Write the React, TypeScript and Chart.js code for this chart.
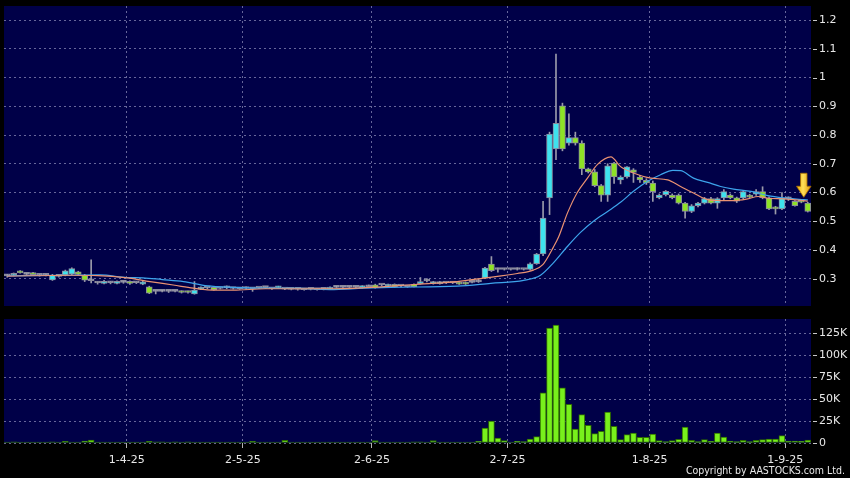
import React, { useEffect, useRef } from "react";
import { Chart, registerables } from "chart.js";

Chart.register(...registerables);

// ---------------- data ----------------
const opens = [
  0.310, 0.312, 0.327, 0.315, 0.320, 0.312, 0.312, 0.296, 0.308, 0.313,
  0.316, 0.324, 0.312, 0.293, 0.285, 0.284, 0.286, 0.284, 0.287, 0.289,
  0.286, 0.281, 0.272, 0.256, 0.256, 0.256, 0.256, 0.256, 0.256, 0.247,
  0.264, 0.268, 0.270, 0.266, 0.268, 0.266, 0.265, 0.266, 0.265, 0.267,
  0.269, 0.265, 0.268, 0.264, 0.263, 0.263, 0.262, 0.263, 0.262, 0.263,
  0.264, 0.270, 0.270, 0.270, 0.270, 0.269, 0.272, 0.279, 0.278, 0.274,
  0.280, 0.274, 0.272, 0.280, 0.283, 0.292, 0.283, 0.283, 0.285, 0.285,
  0.287, 0.287, 0.287, 0.289, 0.302, 0.351, 0.332, 0.332, 0.332, 0.332,
  0.332, 0.332, 0.352, 0.386, 0.581, 0.752, 0.902, 0.772, 0.791, 0.772,
  0.682, 0.672, 0.624, 0.591, 0.702, 0.644, 0.654, 0.679, 0.654, 0.642,
  0.633, 0.582, 0.592, 0.591, 0.591, 0.563, 0.534, 0.554, 0.563, 0.579,
  0.563, 0.581, 0.591, 0.581, 0.581, 0.591, 0.594, 0.603, 0.581, 0.550,
  0.543, 0.578, 0.569, 0.572, 0.563,
];
const highs = [
  0.315, 0.320, 0.328, 0.318, 0.322, 0.316, 0.315, 0.315, 0.312, 0.330,
  0.338, 0.326, 0.315, 0.366, 0.289, 0.294, 0.290, 0.293, 0.290, 0.293,
  0.289, 0.291, 0.274, 0.258, 0.260, 0.258, 0.258, 0.258, 0.257, 0.290,
  0.272, 0.270, 0.272, 0.268, 0.275, 0.268, 0.267, 0.272, 0.267, 0.269,
  0.271, 0.267, 0.274, 0.266, 0.265, 0.266, 0.264, 0.265, 0.266, 0.265,
  0.272, 0.276, 0.272, 0.272, 0.272, 0.276, 0.278, 0.281, 0.280, 0.281,
  0.282, 0.276, 0.275, 0.282, 0.304, 0.300, 0.291, 0.291, 0.288, 0.287,
  0.289, 0.289, 0.289, 0.300, 0.340, 0.377, 0.337, 0.335, 0.334, 0.338,
  0.334, 0.355, 0.388, 0.569, 0.810, 1.082, 0.911, 0.874, 0.810, 0.780,
  0.685, 0.680, 0.628, 0.700, 0.705, 0.658, 0.690, 0.683, 0.660, 0.648,
  0.640, 0.595, 0.607, 0.595, 0.595, 0.566, 0.558, 0.566, 0.583, 0.583,
  0.582, 0.610, 0.595, 0.584, 0.606, 0.594, 0.610, 0.620, 0.585, 0.552,
  0.600, 0.585, 0.572, 0.574, 0.566,
];
const lows = [
  0.305, 0.310, 0.319, 0.312, 0.311, 0.309, 0.310, 0.294, 0.305, 0.310,
  0.314, 0.313, 0.290, 0.285, 0.281, 0.282, 0.282, 0.282, 0.284, 0.280,
  0.283, 0.279, 0.248, 0.247, 0.254, 0.252, 0.254, 0.250, 0.250, 0.246,
  0.262, 0.265, 0.260, 0.264, 0.265, 0.264, 0.263, 0.264, 0.256, 0.265,
  0.266, 0.263, 0.266, 0.262, 0.261, 0.260, 0.260, 0.261, 0.260, 0.261,
  0.262, 0.268, 0.268, 0.268, 0.267, 0.267, 0.270, 0.267, 0.275, 0.273,
  0.270, 0.271, 0.270, 0.271, 0.281, 0.289, 0.281, 0.281, 0.283, 0.283,
  0.280, 0.280, 0.285, 0.287, 0.300, 0.325, 0.323, 0.330, 0.330, 0.330,
  0.330, 0.330, 0.350, 0.380, 0.523, 0.714, 0.745, 0.765, 0.765, 0.662,
  0.668, 0.620, 0.569, 0.569, 0.632, 0.630, 0.650, 0.635, 0.635, 0.628,
  0.569, 0.578, 0.588, 0.578, 0.560, 0.511, 0.530, 0.550, 0.560, 0.560,
  0.545, 0.575, 0.578, 0.565, 0.578, 0.582, 0.590, 0.578, 0.540, 0.525,
  0.540, 0.572, 0.552, 0.564, 0.532,
];
const closes = [
  0.310, 0.318, 0.320, 0.315, 0.314, 0.312, 0.312, 0.313, 0.308, 0.327,
  0.335, 0.315, 0.295, 0.293, 0.285, 0.291, 0.286, 0.291, 0.287, 0.284,
  0.286, 0.289, 0.250, 0.256, 0.256, 0.256, 0.256, 0.252, 0.252, 0.260,
  0.269, 0.268, 0.262, 0.266, 0.268, 0.266, 0.265, 0.266, 0.265, 0.267,
  0.269, 0.265, 0.273, 0.264, 0.263, 0.263, 0.262, 0.263, 0.262, 0.263,
  0.270, 0.270, 0.270, 0.270, 0.270, 0.274, 0.272, 0.269, 0.278, 0.279,
  0.272, 0.274, 0.272, 0.272, 0.290, 0.292, 0.289, 0.289, 0.285, 0.285,
  0.281, 0.281, 0.287, 0.289, 0.337, 0.328, 0.332, 0.332, 0.332, 0.332,
  0.332, 0.352, 0.386, 0.511, 0.803, 0.841, 0.752, 0.791, 0.772, 0.682,
  0.672, 0.624, 0.591, 0.693, 0.654, 0.654, 0.689, 0.670, 0.644, 0.633,
  0.603, 0.591, 0.604, 0.582, 0.563, 0.534, 0.554, 0.563, 0.579, 0.563,
  0.579, 0.603, 0.581, 0.570, 0.603, 0.584, 0.603, 0.582, 0.543, 0.543,
  0.581, 0.578, 0.554, 0.566, 0.534,
];
// volume in thousands of shares
const volumesK = [
  0.5, 1.2, 0.4, 0.3, 0.5, 0.3, 0.3, 1.2, 0.4, 1.8,
  0.6, 0.5, 2.3, 3.4, 1.0, 0.4, 0.3, 0.5, 0.3, 0.4,
  0.3, 0.5, 1.8, 1.2, 1.2, 0.6, 1.2, 0.6, 1.2, 1.0,
  0.6, 0.3, 0.5, 0.3, 0.4, 1.0, 0.3, 0.4, 1.8, 0.3,
  0.5, 0.3, 0.4, 3.0, 0.3, 1.0, 0.3, 0.3, 0.4, 0.3,
  0.5, 0.3, 0.4, 0.3, 0.3, 0.6, 0.3, 2.8, 1.0, 0.4,
  1.0, 0.3, 0.4, 1.2, 1.2, 0.5, 2.8, 0.5, 0.3, 0.4,
  0.6, 0.6, 0.4, 2.0, 17.0, 25.0, 5.7, 2.7, 0.8, 1.9,
  1.5, 4.5, 7.2, 57.0, 130.7, 134.0, 62.8, 43.9, 15.9, 32.2,
  20.0, 10.6, 13.3, 35.2, 18.9, 3.8, 9.5, 11.4, 6.4, 6.4,
  10.2, 2.7, 1.5, 2.7, 4.2, 18.2, 3.0, 1.5, 3.8, 2.0,
  11.4, 6.8, 2.3, 1.5, 3.0, 1.5, 3.0, 3.8, 4.5, 4.5,
  8.3, 2.3, 2.3, 2.0, 3.4,
];
// short moving average (orange), read at points along the line
const maFastX = [0, 10, 14, 18.6, 22.1, 25.7, 28.8, 31, 35, 40, 45, 50, 55, 59.4, 64.5, 69.7, 73.8, 79, 81.5, 83, 84.6, 85.4, 86.8, 88.3, 89.9, 91.4, 93.5, 95, 97, 99.7, 102.3, 104.3, 106.3, 108.5, 110.5, 112.5, 114.7, 116.3, 117.8, 120.3, 122.9, 124];
const maFastY = [0.309, 0.312, 0.311, 0.303, 0.29, 0.278, 0.267, 0.261, 0.26, 0.265, 0.265, 0.265, 0.268, 0.274, 0.282, 0.29, 0.302, 0.318, 0.33, 0.35, 0.41, 0.445, 0.53, 0.6, 0.651, 0.697, 0.724, 0.69, 0.668, 0.65, 0.644, 0.621, 0.598, 0.575, 0.572, 0.572, 0.578, 0.586, 0.58, 0.578, 0.573, 0.57];
// long moving average (blue)
const maSlowX = [0, 10, 14.4, 18.6, 21, 24, 27.3, 31, 35, 40.3, 45.4, 50, 55.2, 59.4, 69.7, 74.9, 80, 82.6, 84.6, 86.8, 88.8, 90.8, 93, 95, 97, 99.2, 101.2, 103.1, 104.3, 106.3, 108.5, 110.5, 112.5, 115.2, 117.8, 120.3, 123.4, 124];
const maSlowY = [0.31, 0.312, 0.313, 0.304, 0.303, 0.297, 0.29, 0.275, 0.27, 0.267, 0.266, 0.262, 0.267, 0.27, 0.274, 0.284, 0.294, 0.312, 0.355, 0.413, 0.461, 0.5, 0.534, 0.566, 0.604, 0.639, 0.662, 0.677, 0.676, 0.65, 0.635, 0.621, 0.612, 0.604, 0.589, 0.581, 0.575, 0.574];

const monthTickIdx = [18.5, 36.5, 56.5, 77.5, 99.5, 120.5];
const monthTickLabels = ["1-4-25", "2-5-25", "2-6-25", "2-7-25", "1-8-25", "1-9-25"];
const priceTicks = [0.3, 0.4, 0.5, 0.6, 0.7, 0.8, 0.9, 1.0, 1.1, 1.2];
const volumeTicks = [0, 25, 50, 75, 100, 125];
const arrowIndex = 124;

// ---------------- styling ----------------
const CYAN = "#3ee2ee";
const GREEN = "#8ee226";
const DOJI = "#a6a6b2";
const WICK = "#9a9aaa";
const BODY_EDGE = "#8a8a9c";
const LIME = "#78f01c";
const LIME_DIM = "#4b8f22";
const LIME_EDGE = "#2e6c00";
const ORANGE = "#eb9272";
const BLUE = "#3da4ec";
const PANEL = "#000048";
const GRID = "rgba(128,128,175,0.8)";
const TEXT = "#e8e8e8";
const FONT = "'DejaVu Sans', 'Liberation Sans', sans-serif";

const N = opens.length;
const idx = opens.map((_, i) => i);
const candleColor = (i: number) =>
  closes[i] > opens[i] ? CYAN : closes[i] < opens[i] ? GREEN : DOJI;

const panelBg = {
  id: "panelBg",
  beforeDraw(chart: any) {
    const { ctx, chartArea: a, width, height } = chart;
    ctx.save();
    ctx.fillStyle = "#000";
    ctx.fillRect(0, 0, width, height);
    ctx.fillStyle = PANEL;
    ctx.fillRect(a.left, a.top, a.right - a.left, a.bottom - a.top);
    ctx.restore();
  },
};

const yTickDash = {
  id: "yTickDash",
  afterDraw(chart: any) {
    const s = chart.scales.y;
    const ctx = chart.ctx;
    ctx.save();
    ctx.strokeStyle = "#c8c8c8";
    ctx.lineWidth = 1;
    s.ticks.forEach((t: any) => {
      const y = Math.round(s.getPixelForValue(t.value)) + 0.5;
      ctx.beginPath();
      ctx.moveTo(s.left + 2, y);
      ctx.lineTo(s.left + 6, y);
      ctx.stroke();
    });
    ctx.restore();
  },
};

const arrowPlugin = {
  id: "lastArrow",
  afterDatasetsDraw(chart: any) {
    const xs = chart.scales.x;
    const ys = chart.scales.y;
    const ctx = chart.ctx;
    const cx = xs.getPixelForValue(arrowIndex) - 4;
    const tip = ys.getPixelForValue(highs[arrowIndex]) - 5;
    const h = 24, headH = 11, shaftW = 6.5, headW = 14.5;
    ctx.save();
    ctx.beginPath();
    ctx.moveTo(cx - shaftW / 2, tip - h);
    ctx.lineTo(cx + shaftW / 2, tip - h);
    ctx.lineTo(cx + shaftW / 2, tip - headH);
    ctx.lineTo(cx + headW / 2, tip - headH);
    ctx.lineTo(cx, tip);
    ctx.lineTo(cx - headW / 2, tip - headH);
    ctx.lineTo(cx - shaftW / 2, tip - headH);
    ctx.closePath();
    const g = ctx.createLinearGradient(cx - headW / 2, 0, cx + headW / 2, 0);
    g.addColorStop(0, "#f2ad00");
    g.addColorStop(0.45, "#ffe05a");
    g.addColorStop(1, "#e09400");
    ctx.fillStyle = g;
    ctx.fill();
    ctx.strokeStyle = "#a87000";
    ctx.lineWidth = 0.8;
    ctx.stroke();
    ctx.restore();
  },
};

function xScale(showLabels: boolean) {
  return {
    type: "linear",
    min: -0.5,
    max: N - 0.5,
    offset: false,
    afterBuildTicks: (s: any) => {
      s.ticks = monthTickIdx.map((v) => ({ value: v }));
    },
    afterFit: (s: any) => {
      s.height = showLabels ? 22 : 0;
      s.paddingLeft = 0;
      s.paddingRight = 0;
      s.paddingTop = 0;
      s.paddingBottom = 0;
    },
    grid: {
      color: GRID,
      offset: false,
      drawTicks: showLabels,
      tickLength: 5,
      tickColor: "#b4b4b4",
      lineWidth: 1,
    },
    border: { display: false, dash: [2, 3] },
    ticks: {
      display: showLabels,
      autoSkip: false,
      maxRotation: 0,
      color: TEXT,
      padding: 6,
      font: { family: FONT, size: 11 },
      callback: (_v: any, k: number) => monthTickLabels[k],
    },
  };
}

function yScale(min: number, max: number, ticks: number[], fmt: (v: number) => string) {
  return {
    type: "linear",
    position: "right",
    min,
    max,
    afterBuildTicks: (s: any) => {
      s.ticks = ticks.map((v) => ({ value: v }));
    },
    afterFit: (s: any) => {
      s.width = 39;
      s.paddingTop = 0;
      s.paddingBottom = 0;
      s.paddingLeft = 0;
      s.paddingRight = 0;
    },
    grid: { color: GRID, drawTicks: false, lineWidth: 1 },
    border: { display: false, dash: [2, 3] },
    ticks: {
      color: TEXT,
      padding: 8,
      font: { family: FONT, size: 11 },
      callback: (v: any) => fmt(Number(v)),
    },
  };
}

export default function App() {
  const priceRef = useRef<HTMLCanvasElement>(null);
  const volRef = useRef<HTMLCanvasElement>(null);

  useEffect(() => {
    const priceChart = new Chart(priceRef.current as HTMLCanvasElement, {
      type: "bar",
      data: {
        datasets: [
          {
            type: "line",
            label: "MA short",
            data: maFastX.map((x, k) => ({ x, y: maFastY[k] })),
            borderColor: ORANGE,
            borderWidth: 1.2,
            pointRadius: 0,
            cubicInterpolationMode: "monotone",
            order: 0,
          },
          {
            type: "line",
            label: "MA long",
            data: maSlowX.map((x, k) => ({ x, y: maSlowY[k] })),
            borderColor: BLUE,
            borderWidth: 1.2,
            pointRadius: 0,
            cubicInterpolationMode: "monotone",
            order: 0,
          },
          {
            type: "bar",
            label: "body",
            data: idx.map((i) => ({
              x: i,
              y: [Math.min(opens[i], closes[i]), Math.max(opens[i], closes[i])],
            })),
            backgroundColor: idx.map(candleColor),
            borderColor: BODY_EDGE,
            borderWidth: 1,
            borderSkipped: false,
            barThickness: 6,
            minBarLength: 2,
            grouped: false,
            order: 1,
          },
          {
            type: "bar",
            label: "wick",
            data: idx.map((i) => ({ x: i, y: [lows[i], highs[i]] })),
            backgroundColor: WICK,
            borderWidth: 0,
            barThickness: 1,
            grouped: false,
            order: 2,
          },
        ],
      } as any,
      options: {
        responsive: false,
        animation: false,
        devicePixelRatio: 1,
        events: [],
        layout: { padding: { left: 4, top: 6, bottom: 6, right: 0 } },
        plugins: { legend: { display: false }, tooltip: { enabled: false } },
        scales: {
          x: xScale(false) as any,
          y: yScale(0.205, 1.249, priceTicks, (v) => String(Number(v.toFixed(1)))) as any,
        },
      },
      plugins: [panelBg, yTickDash, arrowPlugin],
    });

    const volChart = new Chart(volRef.current as HTMLCanvasElement, {
      type: "bar",
      data: {
        datasets: [
          {
            label: "Volume",
            data: idx.map((i) => ({ x: i, y: volumesK[i] })),
            backgroundColor: idx.map((i) => (volumesK[i] < 1.5 ? LIME_DIM : LIME)),
            borderColor: LIME_EDGE,
            borderWidth: 1,
            borderSkipped: false,
            barThickness: 6,
            minBarLength: 1,
            grouped: false,
          },
        ],
      } as any,
      options: {
        responsive: false,
        animation: false,
        devicePixelRatio: 1,
        events: [],
        layout: { padding: { left: 4, top: 7, bottom: 13, right: 0 } },
        plugins: { legend: { display: false }, tooltip: { enabled: false } },
        scales: {
          x: xScale(true) as any,
          y: yScale(0, 141, volumeTicks, (v) => (v === 0 ? "0" : `${v}K`)) as any,
        },
      },
      plugins: [panelBg, yTickDash],
    });

    return () => {
      priceChart.destroy();
      volChart.destroy();
    };
  }, []);

  return (
    <div
      style={{
        position: "fixed",
        left: 0,
        top: 0,
        width: 850,
        height: 478,
        background: "#000",
        overflow: "hidden",
      }}
    >
      <canvas
        ref={priceRef}
        width={850}
        height={312}
        style={{ position: "absolute", left: 0, top: 0, width: 850, height: 312 }}
      />
      <canvas
        ref={volRef}
        width={850}
        height={166}
        style={{ position: "absolute", left: 0, top: 312, width: 850, height: 166 }}
      />
      <div
        style={{
          position: "absolute",
          right: 5,
          top: 464,
          color: TEXT,
          fontFamily: "'DejaVu Sans Condensed', 'DejaVu Sans', sans-serif",
          fontStretch: "condensed",
          fontSize: 10.5,
          lineHeight: "12px",
          whiteSpace: "nowrap",
        }}
      >
        Copyright by AASTOCKS.com Ltd.
      </div>
    </div>
  );
}
